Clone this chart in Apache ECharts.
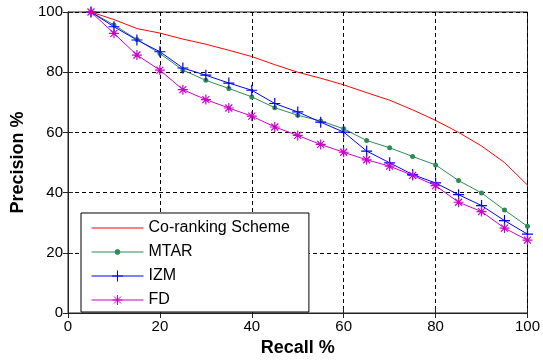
<!DOCTYPE html>
<html>
<head>
<meta charset="utf-8">
<script src="https://cdn.jsdelivr.net/npm/echarts@6/dist/echarts.min.js"></script>
<style>
html,body{margin:0;padding:0;background:#fff;}
#c{width:543px;height:362px;}
</style>
</head>
<body>
<div id="c"></div>
<script>
const recall = [5,10,15,20,25,30,35,40,45,50,55,60,65,70,75,80,85,90,95,100];
const coRanking = [100,97.5,94.5,93,91,89.3,87.3,85.2,82.5,80,78,75.8,73.2,70.7,67.5,64,60,55.5,50,42.5];
const mtar = [100,95.7,90.9,86.2,80.7,77.3,74.6,71.8,68.2,65.7,63.8,61.2,57.3,54.9,52,49.2,44,39.9,34.2,28.8];
const izm = [100,95.1,90.7,86.8,81.4,79,76.4,74,69.6,66.8,63.4,60.1,53.8,49.9,46,43.2,39.3,35.7,30.7,26.2];
const fd = [100,92.9,85.7,80.7,74.2,70.9,68.1,65.4,61.8,59,56,53.4,50.9,48.8,45.7,42.3,36.8,33.7,28.2,24.2];
const ticks = [0,20,40,60,80,100];
const seriesNames = ['Co-ranking Scheme','MTAR','IZM','FD'];
const colors = ['#ff0000','#2e8b57','#0000ff','#cc00cc'];

const pair = (ys) => recall.map((x,i)=>[x, ys[i]]);
const font = '"Liberation Sans", Arial, sans-serif';
const plusPath = 'path://M0,5L10,5M5,0L5,10';
const starPath = 'path://M0,5L10,5M5,0L5,10M1.5,1.5L8.5,8.5M1.5,8.5L8.5,1.5';
// legend icons: line sample plus marker, framed to the 52x14 legend item box
const legIcons = [
  'path://M0,0M52,14M0,7L52,7',
  'path://M0,0M52,14M0,7L52,7M26,4.6A2.4,2.4,0,1,1,26,9.4A2.4,2.4,0,1,1,26,4.6Z',
  'path://M0,0M52,14M0,7L52,7M26,1.5L26,12.5M20.5,7L31.5,7',
  'path://M0,0M52,14M0,7L52,7M26,2L26,12M21,7L31,7M22.5,3.5L29.5,10.5M22.5,10.5L29.5,3.5'
];

const axisCommon = {
  min: ticks[0], max: ticks[ticks.length-1], interval: 20,
  axisLine: {show: true, lineStyle: {color: '#222', width: 1}},
  axisTick: {show: true, inside: true, length: 5, lineStyle: {color: '#222'}},
  axisLabel: {color: '#000', fontSize: 15, fontFamily: font},
  nameTextStyle: {color: '#000', fontSize: 18, fontWeight: 'bold', fontFamily: font},
  splitLine: {show: true, lineStyle: {color: '#000', type: [4,3], width: 1}}
};

const chart = echarts.init(document.getElementById('c'), null, {renderer: 'canvas'});
chart.setOption({
  backgroundColor: '#fff',
  animation: false,
  grid: {left: 68, right: 12, top: 12, bottom: 49, show: true, borderColor: '#222', borderWidth: 1, backgroundColor: '#fff'},
  xAxis: [
    Object.assign({}, axisCommon, {type: 'value', position: 'bottom', name: 'Recall %', nameLocation: 'middle', nameGap: 25,
      axisLabel: Object.assign({}, axisCommon.axisLabel, {margin: 6})}),
    Object.assign({}, axisCommon, {type: 'value', position: 'top', axisLabel: {show: false}, splitLine: {show: false}})
  ],
  yAxis: [
    Object.assign({}, axisCommon, {type: 'value', position: 'left', name: 'Precision %', nameLocation: 'middle', nameGap: 40,
      axisLabel: Object.assign({}, axisCommon.axisLabel, {margin: 5})}),
    Object.assign({}, axisCommon, {type: 'value', position: 'right', axisLabel: {show: false}, splitLine: {show: false}})
  ],
  legend: {
    orient: 'vertical', left: 81, top: 213,
    data: seriesNames.map((n,i)=>({name: n, icon: legIcons[i],
      itemStyle: {color: colors[i], borderColor: colors[i], borderWidth: 1}})),
    backgroundColor: '#fff', borderColor: '#000', borderWidth: 1,
    padding: [7, 19, 4, 10],
    itemWidth: 52, itemHeight: 14, itemGap: 8,
    textStyle: {color: '#000', fontSize: 16, fontFamily: font, lineHeight: 16}
  },
  series: [
    {name: seriesNames[0], type: 'line', data: pair(coRanking), symbol: 'none', z: 5,
      lineStyle: {color: colors[0], width: 1}, itemStyle: {color: colors[0]}},
    {name: seriesNames[1], type: 'line', data: pair(mtar), symbol: 'circle', symbolSize: 5, z: 4,
      lineStyle: {color: colors[1], width: 1}, itemStyle: {color: colors[1], borderColor: colors[1], borderWidth: 0}},
    {name: seriesNames[2], type: 'line', data: pair(izm), symbol: plusPath, symbolSize: 11, z: 4,
      lineStyle: {color: colors[2], width: 1}, itemStyle: {color: colors[2], borderColor: colors[2], borderWidth: 1.2}},
    {name: seriesNames[3], type: 'line', data: pair(fd), symbol: starPath, symbolSize: 10, z: 4,
      lineStyle: {color: colors[3], width: 1}, itemStyle: {color: colors[3], borderColor: colors[3], borderWidth: 1.2}}
  ]
});
</script>
</body>
</html>
